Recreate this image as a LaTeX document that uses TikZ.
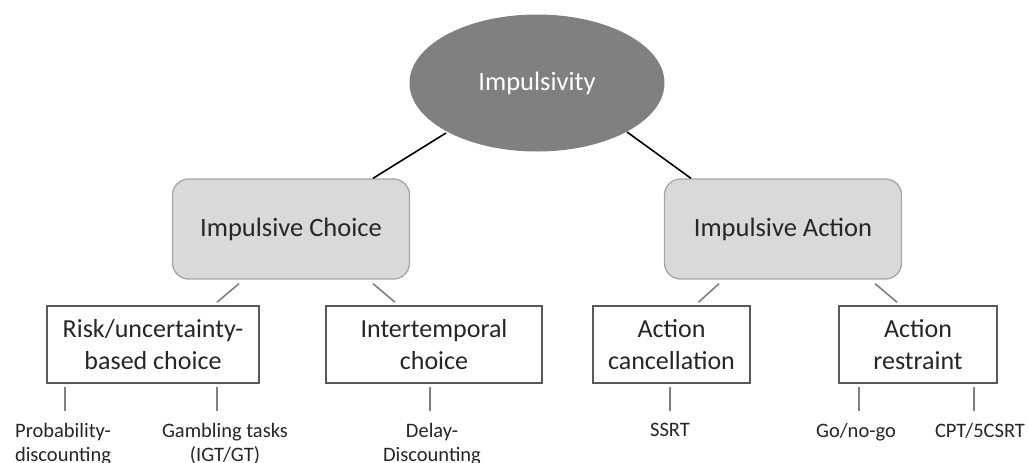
\documentclass[tikz,border=0pt]{standalone}
\usepackage{fontspec}
\setmainfont{Carlito}
\usetikzlibrary{shapes.geometric}
\tikzset{
  top/.style={ellipse, fill=black!50, text=white, minimum width=255pt, minimum height=137pt, font=\fontsize{26.5}{31}\selectfont},
  mid/.style={rectangle, rounded corners=16pt, draw=black!35, line width=1.3pt, fill=black!15, minimum width=237pt, minimum height=100pt, text=black!85, font=\fontsize{26.5}{31}\selectfont},
  sub/.style={rectangle, draw=black!65, line width=1.6pt, minimum height=77pt, align=center, text=black!85, font=\fontsize{26}{31.5}\selectfont},
  leaf/.style={align=center, inner sep=0pt, anchor=north, text=black!85, font=\fontsize{20.5}{24.5}\selectfont},
  link/.style={line width=1.6pt},
  twig/.style={draw=black!50, line width=1.6pt},
}

\begin{document}
\begin{tikzpicture}[x=1pt,y=-1pt]
\useasboundingbox[fill=white] (0,0) rectangle (1028,463);

\node[top] (imp) at (537,83) {Impulsivity};

\node[mid] (choice) at (291,229) {Impulsive Choice};
\node[mid] (action) at (783,229) {Impulsive Action};

\node[sub, minimum width=212pt] (risk) at (153,344.5) {Risk/uncertainty-\\based choice};
\node[sub, minimum width=216pt] (inter) at (434,344.5) {Intertemporal\\choice};
\node[sub, minimum width=157pt] (cancel) at (671.5,344.5) {Action\\cancellation};
\node[sub, minimum width=158pt] (restr) at (918,344.5) {Action\\restraint};

\node[leaf] (prob) at (63,423) {Probability-\\discounting};
\node[leaf] (gamb) at (225,423) {Gambling tasks\\(IGT/GT)};
\node[leaf] (delay) at (432,423) {Delay-\\Discounting};
\node[leaf] (ssrt) at (670,423) {SSRT};
\node[leaf] (gonogo) at (856,423) {Go/no-go};
\node[leaf] (cpt) at (980,423) {CPT/5CSRT};

% top level
\draw[link] ([xshift=-91pt,yshift=-50pt]imp.center) -- ([xshift=82pt]choice.north);
\draw[link] ([xshift=90pt,yshift=-49pt]imp.center) -- ([xshift=-92pt]action.north);

% second level
\draw[twig] ([xshift=-52pt,yshift=-4pt]choice.south) -- ([xshift=64pt,yshift=3pt]risk.north);
\draw[twig] ([xshift=82pt,yshift=-4pt]choice.south) -- ([xshift=-39pt,yshift=3pt]inter.north);
\draw[twig] ([xshift=-64pt,yshift=-4pt]action.south) -- ([xshift=27pt,yshift=3pt]cancel.north);
\draw[twig] ([xshift=92pt,yshift=-4pt]action.south) -- ([xshift=-21pt,yshift=3pt]restr.north);

% tasks
\draw[twig] ([xshift=2pt,yshift=12pt]prob.north) -- ++(0,-24);
\draw[twig] ([xshift=-8pt,yshift=12pt]gamb.north) -- ++(0,-24);
\draw[twig] ([xshift=-2pt,yshift=12pt]delay.north) -- ++(0,-24);
\draw[twig] ([yshift=12pt]ssrt.north) -- ++(0,-24);
\draw[twig] ([xshift=3pt,yshift=12pt]gonogo.north) -- ++(0,-24);
\draw[twig] ([xshift=-6pt,yshift=12pt]cpt.north) -- ++(0,-24);
\end{tikzpicture}
\end{document}
